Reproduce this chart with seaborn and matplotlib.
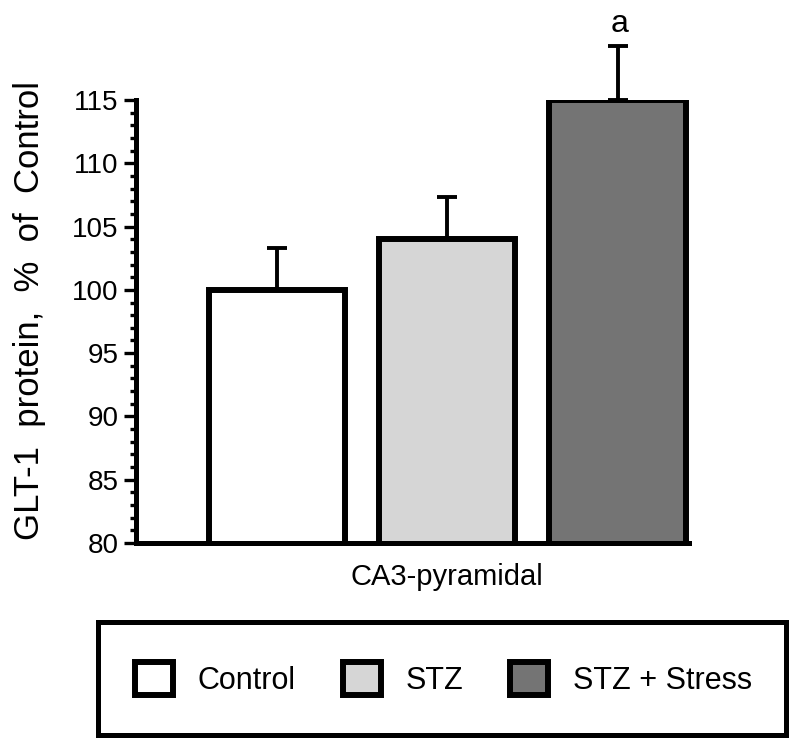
import numpy as np
import pandas as pd
import seaborn as sns
import matplotlib.pyplot as plt
from matplotlib.patches import Patch, Rectangle

groups = ["Control", "STZ", "STZ + Stress"]
means = [100, 104, 115]
sems = [3.3, 3.3, 4.3]
fills = ["#ffffff", "#d6d6d6", "#747474"]
region = "CA3-pyramidal"
sig_labels = ["", "", "a"]

sns.set_style("ticks", {"axes.edgecolor": "black", "text.color": "black",
                        "axes.labelcolor": "black", "xtick.color": "black",
                        "ytick.color": "black"})
plt.rcParams["font.family"] = ["Liberation Sans", "DejaVu Sans"]

df = pd.DataFrame({"group": groups, "mean": means, "sem": sems})

fig = plt.figure(figsize=(7.98, 7.49), dpi=100)
ax = fig.add_axes([0.1704, 0.275, 0.6930, 0.5915])

sns.barplot(data=df, x="group", y="mean", hue="group", palette=fills,
            width=0.80, edgecolor="black", linewidth=4.3, errorbar=None,
            legend=False, ax=ax, saturation=1)

# upward-only error bars
ax.errorbar(np.arange(len(groups)), df["mean"], yerr=[np.zeros(len(groups)), df["sem"]],
            fmt="none", ecolor="black", elinewidth=2.8, capsize=7.5, capthick=2.8,
            clip_on=False, zorder=1)
for i, s in enumerate(sig_labels):
    if s:
        ax.text(i + 0.01, means[i] + sems[i] + 1.1, s, ha="center", va="baseline",
                fontsize=23, color="black")

ax.set_ylim(80, 115)
ax.set_xlim(-0.83, 2.42)
ax.set_yticks(np.arange(80, 116, 5))
ax.set_yticks(np.arange(80, 116, 1), minor=True)
ax.tick_params(axis="y", which="major", length=8.5, width=2.4, labelsize=20, pad=4,
               color="black", labelcolor="black")
ax.tick_params(axis="y", which="minor", length=4.5, width=2.4, color="black")
ax.tick_params(axis="x", length=0, labelbottom=False)
for side in ["left", "bottom"]:
    ax.spines[side].set_linewidth(3.6)
    ax.spines[side].set_color("black")
sns.despine(ax=ax)
ax.set_xlabel(region, fontsize=21, color="black")
ax.xaxis.set_label_coords(0.5624, -0.045)
ax.xaxis.label.set_verticalalignment("top")
ax.set_ylabel("GLT-1  protein,  %  of  Control", fontsize=25, color="black")
ax.yaxis.set_label_coords(-0.163, 0.524)

handles = [Patch(facecolor=c, edgecolor="black", linewidth=4.3) for c in fills]
fig.patches.append(Rectangle((0.1228, 0.0187), 0.862, 0.1509, transform=fig.transFigure,
                             fill=False, edgecolor="black", linewidth=3.6))
leg = fig.legend(handles, groups, loc="center", bbox_to_anchor=(0.5555, 0.0935), ncol=3,
                 frameon=False, fontsize=22, handlelength=1.25, handleheight=1.25,
                 handletextpad=0.8, columnspacing=1.55)
for t in leg.get_texts():
    t.set_color("black")

fig.savefig("out.png", dpi=100)
